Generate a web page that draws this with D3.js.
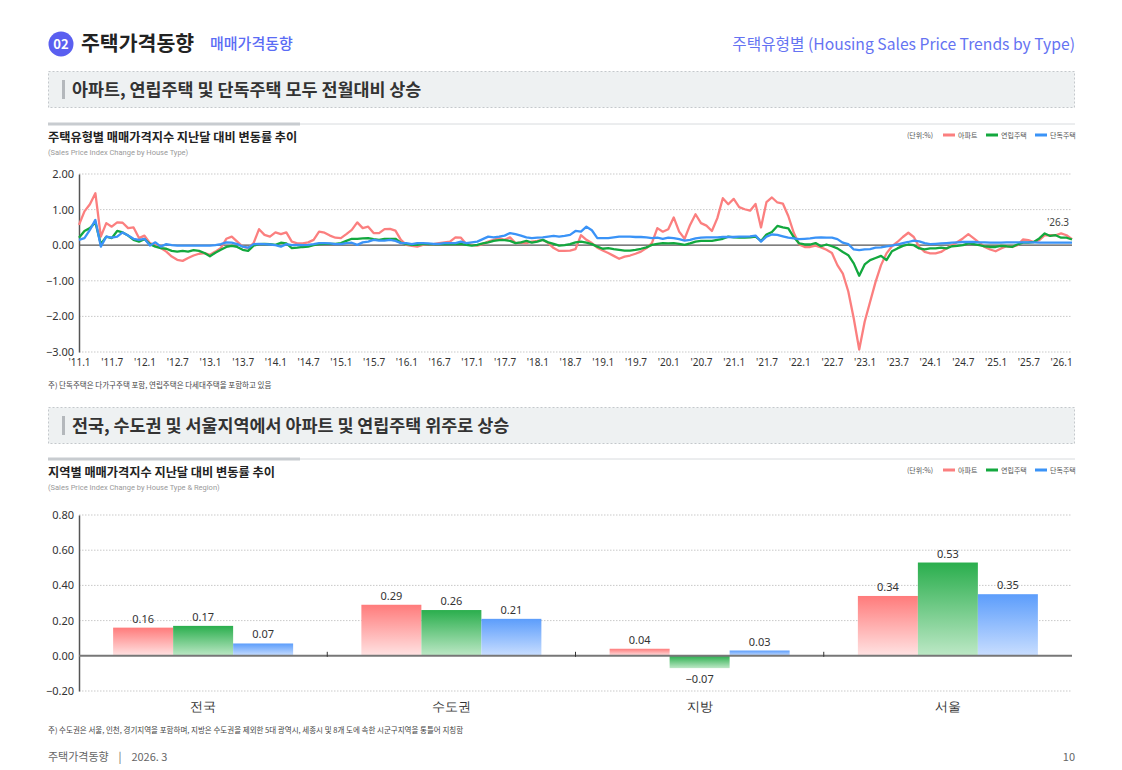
<!DOCTYPE html>
<html><head><meta charset="utf-8">
<script src="https://cdn.jsdelivr.net/npm/d3@7"></script>
<style>
html,body{margin:0;padding:0;background:#fff;}
svg{display:block;font-family:"Noto Sans CJK KR","Noto Sans",sans-serif;}
</style></head>
<body>
<svg id="c" width="1122" height="770"></svg>
<script>
// ---------- DATA ----------
const startYear = 2011, startMonth = 1, monthCount = 183; // 2011.1 ~ 2026.3
const xTickLabels = ["'11.1","'11.7","'12.1","'12.7","'13.1","'13.7","'14.1","'14.7","'15.1","'15.7","'16.1","'16.7","'17.1","'17.7","'18.1","'18.7","'19.1","'19.7","'20.1","'20.7","'21.1","'21.7","'22.1","'22.7","'23.1","'23.7","'24.1","'24.7","'25.1","'25.7","'26.1"];
const yTicks1 = [2, 1, 0, -1, -2, -3];
const aptSeries = [0.57,0.95,1.15,1.46,0.24,0.62,0.52,0.64,0.63,0.48,0.50,0.20,0.27,0.06,0.00,-0.08,-0.18,-0.32,-0.41,-0.44,-0.36,-0.29,-0.24,-0.22,-0.27,-0.18,-0.08,0.18,0.24,0.10,-0.04,-0.08,0.06,0.45,0.29,0.24,0.36,0.31,0.36,0.10,0.05,0.05,0.08,0.15,0.38,0.35,0.27,0.21,0.20,0.31,0.43,0.64,0.48,0.52,0.34,0.34,0.45,0.46,0.41,0.15,0.01,-0.02,-0.04,0.01,0.03,0.03,0.06,0.08,0.10,0.22,0.21,0.03,0.01,-0.01,0.03,0.10,0.15,0.20,0.15,0.22,0.06,0.07,0.06,0.10,0.12,0.15,0.06,-0.08,-0.16,-0.16,-0.15,-0.11,0.28,0.15,0.06,-0.07,-0.15,-0.22,-0.30,-0.38,-0.32,-0.29,-0.24,-0.18,-0.08,0.06,0.48,0.38,0.45,0.78,0.38,0.18,0.57,0.87,0.62,0.55,0.40,0.76,1.32,1.15,1.30,1.07,1.01,0.97,1.16,0.50,1.21,1.34,1.20,1.17,0.82,0.35,0.02,-0.05,-0.05,-0.01,-0.06,-0.13,-0.22,-0.56,-0.80,-1.30,-2.06,-2.93,-2.15,-1.59,-1.03,-0.56,-0.23,-0.03,0.09,0.23,0.35,0.23,-0.05,-0.19,-0.23,-0.23,-0.19,-0.09,0.00,0.09,0.19,0.31,0.19,0.07,-0.05,-0.12,-0.17,-0.09,-0.03,-0.05,0.00,0.16,0.14,0.09,0.14,0.28,0.28,0.28,0.33,0.28,0.17];
const rowSeries = [0.21,0.40,0.48,0.64,0.03,0.24,0.20,0.40,0.36,0.27,0.15,0.10,0.17,0.03,-0.04,-0.08,-0.10,-0.16,-0.18,-0.16,-0.18,-0.14,-0.16,-0.22,-0.31,-0.21,-0.13,-0.05,-0.02,-0.05,-0.13,-0.16,-0.01,0.03,0.04,0.03,0.01,0.07,0.05,-0.08,-0.07,-0.05,-0.04,0.00,0.03,0.04,0.04,0.04,0.06,0.12,0.18,0.18,0.19,0.20,0.17,0.15,0.18,0.18,0.18,0.07,0.03,0.01,0.01,0.03,0.03,0.03,0.03,0.04,0.03,0.03,0.04,0.01,-0.01,0.01,0.05,0.08,0.12,0.14,0.14,0.12,0.06,0.08,0.12,0.07,0.10,0.15,0.08,0.04,-0.01,0.00,0.03,0.08,0.10,0.07,0.03,-0.04,-0.10,-0.08,-0.11,-0.13,-0.15,-0.15,-0.13,-0.10,-0.06,0.01,0.04,0.06,0.05,0.06,0.04,0.01,0.05,0.10,0.12,0.12,0.12,0.15,0.18,0.24,0.22,0.21,0.21,0.22,0.24,0.12,0.30,0.37,0.54,0.50,0.47,0.23,0.05,0.02,0.02,0.06,-0.03,0.02,-0.03,-0.09,-0.19,-0.28,-0.51,-0.86,-0.54,-0.42,-0.36,-0.30,-0.42,-0.17,-0.09,-0.02,0.02,0.00,-0.09,-0.12,-0.09,-0.09,-0.07,-0.09,-0.03,-0.02,0.00,0.05,0.03,0.00,-0.03,-0.05,-0.05,-0.02,-0.03,-0.05,0.02,0.07,0.07,0.09,0.19,0.33,0.26,0.28,0.21,0.21,0.16];
const detSeries = [0.15,0.20,0.43,0.71,-0.04,0.24,0.21,0.24,0.36,0.27,0.18,0.15,0.18,-0.01,0.08,-0.04,0.03,0.00,-0.01,-0.01,-0.01,-0.01,-0.01,-0.01,-0.01,0.00,0.03,0.08,0.07,0.03,-0.04,-0.07,0.03,0.04,0.03,0.02,0.00,-0.04,0.03,0.00,0.01,0.00,0.01,0.03,0.06,0.06,0.05,0.03,0.03,0.06,0.07,0.01,0.08,0.10,0.15,0.13,0.13,0.15,0.12,0.06,0.06,0.03,0.06,0.06,0.05,0.04,0.04,0.06,0.06,0.06,0.10,0.06,0.08,0.10,0.17,0.24,0.22,0.24,0.27,0.34,0.31,0.27,0.22,0.20,0.21,0.22,0.24,0.26,0.24,0.26,0.29,0.40,0.38,0.52,0.42,0.20,0.20,0.20,0.22,0.24,0.24,0.24,0.23,0.23,0.22,0.20,0.21,0.18,0.21,0.20,0.17,0.13,0.15,0.19,0.21,0.22,0.22,0.22,0.23,0.23,0.23,0.24,0.24,0.25,0.27,0.10,0.24,0.30,0.29,0.25,0.21,0.19,0.17,0.18,0.19,0.21,0.22,0.21,0.21,0.17,0.07,0.03,-0.12,-0.14,-0.12,-0.11,-0.07,-0.06,-0.03,-0.01,0.02,0.06,0.09,0.13,0.11,0.06,0.03,0.04,0.05,0.06,0.07,0.08,0.09,0.09,0.09,0.08,0.08,0.07,0.07,0.07,0.08,0.08,0.08,0.08,0.08,0.08,0.07,0.07,0.07,0.07,0.07,0.07,0.07];
const seriesNames = ["아파트","연립주택","단독주택"];
const seriesColors = ["#fb7f7f","#13a83e","#3a93f7"];
const lastLabel = "'26.3";

const regions = ["전국","수도권","지방","서울"];
const aptRegion = [0.16, 0.29, 0.04, 0.34];
const rowRegion = [0.17, 0.26, -0.07, 0.53];
const detRegion = [0.07, 0.21, 0.03, 0.35];
const yTicks2 = [0.8, 0.6, 0.4, 0.2, 0, -0.2];

// ---------- DRAW ----------
const svg = d3.select("#c");
const defs = svg.append("defs");
const gradStops = [["#ff7b7b","#ffe3e3"],["#2aae4d","#bde8c6"],["#5c9dfb","#c9deff"]];
gradStops.forEach((s,i)=>{
  const g = defs.append("linearGradient").attr("id","g"+i).attr("x1",0).attr("y1",0).attr("x2",0).attr("y2",1);
  g.append("stop").attr("offset","0%").attr("stop-color",s[0]);
  g.append("stop").attr("offset","100%").attr("stop-color",s[1]);
});

// Header
svg.append("circle").attr("cx",61).attr("cy",44).attr("r",12.5).attr("fill","#5a5ff0");
svg.append("text").attr("x",61).attr("y",49).attr("text-anchor","middle").attr("fill","#fff")
  .attr("font-size",13).attr("font-weight",700).text("02");
svg.append("text").attr("x",81).attr("y",51).attr("font-size",20.5).attr("font-weight",700).attr("fill","#222").text("주택가격동향");
svg.append("text").attr("x",210).attr("y",49).attr("font-size",15).attr("font-weight",500).attr("fill","#5b6cf5").text("매매가격동향");
svg.append("text").attr("x",1075).attr("y",50).attr("text-anchor","end").attr("font-size",15.7).attr("fill","#6573f2")
  .attr("font-family","'Noto Sans CJK KR',sans-serif").text("주택유형별 (Housing Sales Price Trends by Type)");

function banner(y, txt){
  svg.append("rect").attr("x",48.5).attr("y",y+0.5).attr("width",1026).attr("height",36).attr("fill","#eef1f2")
    .attr("stroke","#c4c8cc").attr("stroke-dasharray","2,2").attr("stroke-width",1);
  svg.append("rect").attr("x",62).attr("y",y+9).attr("width",3).attr("height",19).attr("fill","#b4b8bc");
  svg.append("text").attr("x",72).attr("y",y+25).attr("font-size",17.4).attr("font-weight",700).attr("fill","#333").text(txt);
}
banner(71, "아파트, 연립주택 및 단독주택 모두 전월대비 상승");
banner(407, "전국, 수도권 및 서울지역에서 아파트 및 연립주택 위주로 상승");

function chartTitle(y, title, sub){
  svg.append("line").attr("x1",48).attr("x2",1075).attr("y1",y).attr("y2",y).attr("stroke","#d8dbde").attr("stroke-width",1);
  svg.append("line").attr("x1",48).attr("x2",300).attr("y1",y).attr("y2",y).attr("stroke","#c8ccd0").attr("stroke-width",3);
  svg.append("text").attr("x",48).attr("y",y+18).attr("font-size",12.2).attr("font-weight",700).attr("fill","#222").text(title);
  svg.append("text").attr("x",48).attr("y",y+31).attr("font-size",7.5).attr("fill","#9a9a9a").attr("font-family","Roboto,sans-serif").text(sub);
  const ly = y+11;
  svg.append("text").attr("x",907).attr("y",ly+2.5).attr("font-size",7).attr("fill","#555").text("(단위:%)");
  const lx = [943, 986, 1035];
  seriesNames.forEach((n,i)=>{
    svg.append("line").attr("x1",lx[i]).attr("x2",lx[i]+12).attr("y1",ly).attr("y2",ly).attr("stroke",seriesColors[i]).attr("stroke-width",3);
    svg.append("text").attr("x",lx[i]+15).attr("y",ly+2.5).attr("font-size",7).attr("fill","#555").text(n);
  });
}
chartTitle(124, "주택유형별 매매가격지수 지난달 대비 변동률 추이", "(Sales Price Index Change by House Type)");
chartTitle(459, "지역별 매매가격지수 지난달 대비 변동률 추이", "(Sales Price Index Change by House Type & Region)");

// ---------- Line chart ----------
const x1 = d3.scaleLinear().domain([0, monthCount-1]).range([79, 1072]);
const y1 = d3.scaleLinear().domain([-3, 2]).range([352, 174]);
const g1 = svg.append("g");
g1.append("g").selectAll("line").data(yTicks1.filter(v=>v!==0)).join("line")
  .attr("x1",79).attr("x2",1072).attr("y1",d=>y1(d)).attr("y2",d=>y1(d))
  .attr("stroke","#c9c9c9").attr("stroke-dasharray","1.5,1.5");
const ya1 = g1.append("g").attr("transform","translate(79,0)")
  .call(d3.axisLeft(y1).tickValues(yTicks1).tickFormat(d3.format(".2f")).tickSize(0).tickPadding(5));
ya1.select(".domain").attr("stroke","#555").attr("stroke-width",1.5);
ya1.selectAll("text").attr("font-size",11).attr("fill","#333").attr("font-family","'Noto Sans',sans-serif");
const tickIdx = xTickLabels.map((d,i)=>i*6);
const xa1 = g1.append("g").attr("transform","translate(0,352)")
  .call(d3.axisBottom(x1).tickValues(tickIdx).tickFormat((d,i)=>xTickLabels[i]).tickSize(0).tickPadding(7));
xa1.select(".domain").remove();
xa1.selectAll("text").attr("font-size",10).attr("fill","#333").attr("font-family","'Noto Sans',sans-serif");
g1.append("line").attr("x1",79).attr("x2",1072).attr("y1",y1(0)).attr("y2",y1(0)).attr("stroke","#555").attr("stroke-width",1.3);
const lineGen = d3.line().x((d,i)=>x1(i)).y(d=>y1(d));
[aptSeries,rowSeries,detSeries].forEach((s,i)=>{
  g1.append("path").datum(s).attr("d",lineGen).attr("fill","none").attr("stroke",seriesColors[i])
    .attr("stroke-width",2.3).attr("stroke-linejoin","round");
});
g1.append("text").attr("x",x1(monthCount-1)-14).attr("y",y1(0.53)).attr("text-anchor","middle")
  .attr("font-size",10).attr("fill","#444").attr("font-family","'Noto Sans',sans-serif").text(lastLabel);
svg.append("text").attr("x",48).attr("y",388).attr("font-size",7.5).attr("fill","#444").text("주) 단독주택은 다가구주택 포함, 연립주택은 다세대주택을 포함하고 있음");

// ---------- Bar chart ----------
const bx0 = d3.scaleBand().domain(regions).range([79, 1072]);
const bx1 = d3.scaleBand().domain([0,1,2]).range([0, 180]);
const off = (bx0.bandwidth()-180)/2;
const y2 = d3.scaleLinear().domain([-0.2, 0.8]).range([691, 515]);
const g2 = svg.append("g");
g2.append("g").selectAll("line").data(yTicks2.filter(v=>v!==0)).join("line")
  .attr("x1",79).attr("x2",1072).attr("y1",d=>y2(d)).attr("y2",d=>y2(d))
  .attr("stroke","#c9c9c9").attr("stroke-dasharray","1.5,1.5");
const ya2 = g2.append("g").attr("transform","translate(79,0)")
  .call(d3.axisLeft(y2).tickValues(yTicks2).tickFormat(d3.format(".2f")).tickSize(0).tickPadding(5));
ya2.select(".domain").attr("stroke","#555").attr("stroke-width",1.5);
ya2.selectAll("text").attr("font-size",11).attr("fill","#333").attr("font-family","'Noto Sans',sans-serif");
const regionData = [aptRegion,rowRegion,detRegion];
regions.forEach((r,ci)=>{
  regionData.forEach((s,si)=>{
    const v = s[ci];
    const bx = bx0(r)+off+bx1(si);
    g2.append("rect").attr("x",bx).attr("width",bx1.bandwidth())
      .attr("y",y2(Math.max(0,v))).attr("height",Math.abs(y2(v)-y2(0)))
      .attr("fill","url(#g"+si+")");
    g2.append("text").attr("x",bx+bx1.bandwidth()/2).attr("y", v>=0 ? y2(v)-5 : y2(v)+15)
      .attr("text-anchor","middle").attr("font-size",11).attr("fill","#333").attr("font-family","'Noto Sans',sans-serif")
      .text(d3.format(".2f")(v));
  });
});
const xa2 = g2.append("g").attr("transform","translate(0,"+y2(0)+")")
  .call(d3.axisBottom(bx0).tickSize(0).tickPadding(0));
xa2.select(".domain").remove();
xa2.selectAll("text").attr("dy",0).attr("y",55).attr("font-size",13).attr("fill","#333");
g2.append("line").attr("x1",79).attr("x2",1072).attr("y1",y2(0)).attr("y2",y2(0)).attr("stroke","#777").attr("stroke-width",2);
g2.selectAll(".sep").data(regions.slice(1)).join("line")
  .attr("x1",d=>bx0(d)).attr("x2",d=>bx0(d)).attr("y1",y2(0)-4).attr("y2",y2(0)+1).attr("stroke","#333").attr("stroke-width",1);
svg.append("text").attr("x",48).attr("y",733).attr("font-size",7.5).attr("fill","#444")
  .text("주) 수도권은 서울, 인천, 경기지역을 포함하며, 지방은 수도권을 제외한 5대 광역시, 세종시 및 8개 도에 속한 시군구지역을 통틀어 지칭함");

// Footer
svg.append("text").attr("x",48).attr("y",761).attr("font-size",11).attr("fill","#666").attr("xml:space","preserve").text("주택가격동향    |    2026. 3");
svg.append("text").attr("x",1075).attr("y",761).attr("text-anchor","end").attr("font-size",11).attr("fill","#666").text("10");
</script>
</body></html>
